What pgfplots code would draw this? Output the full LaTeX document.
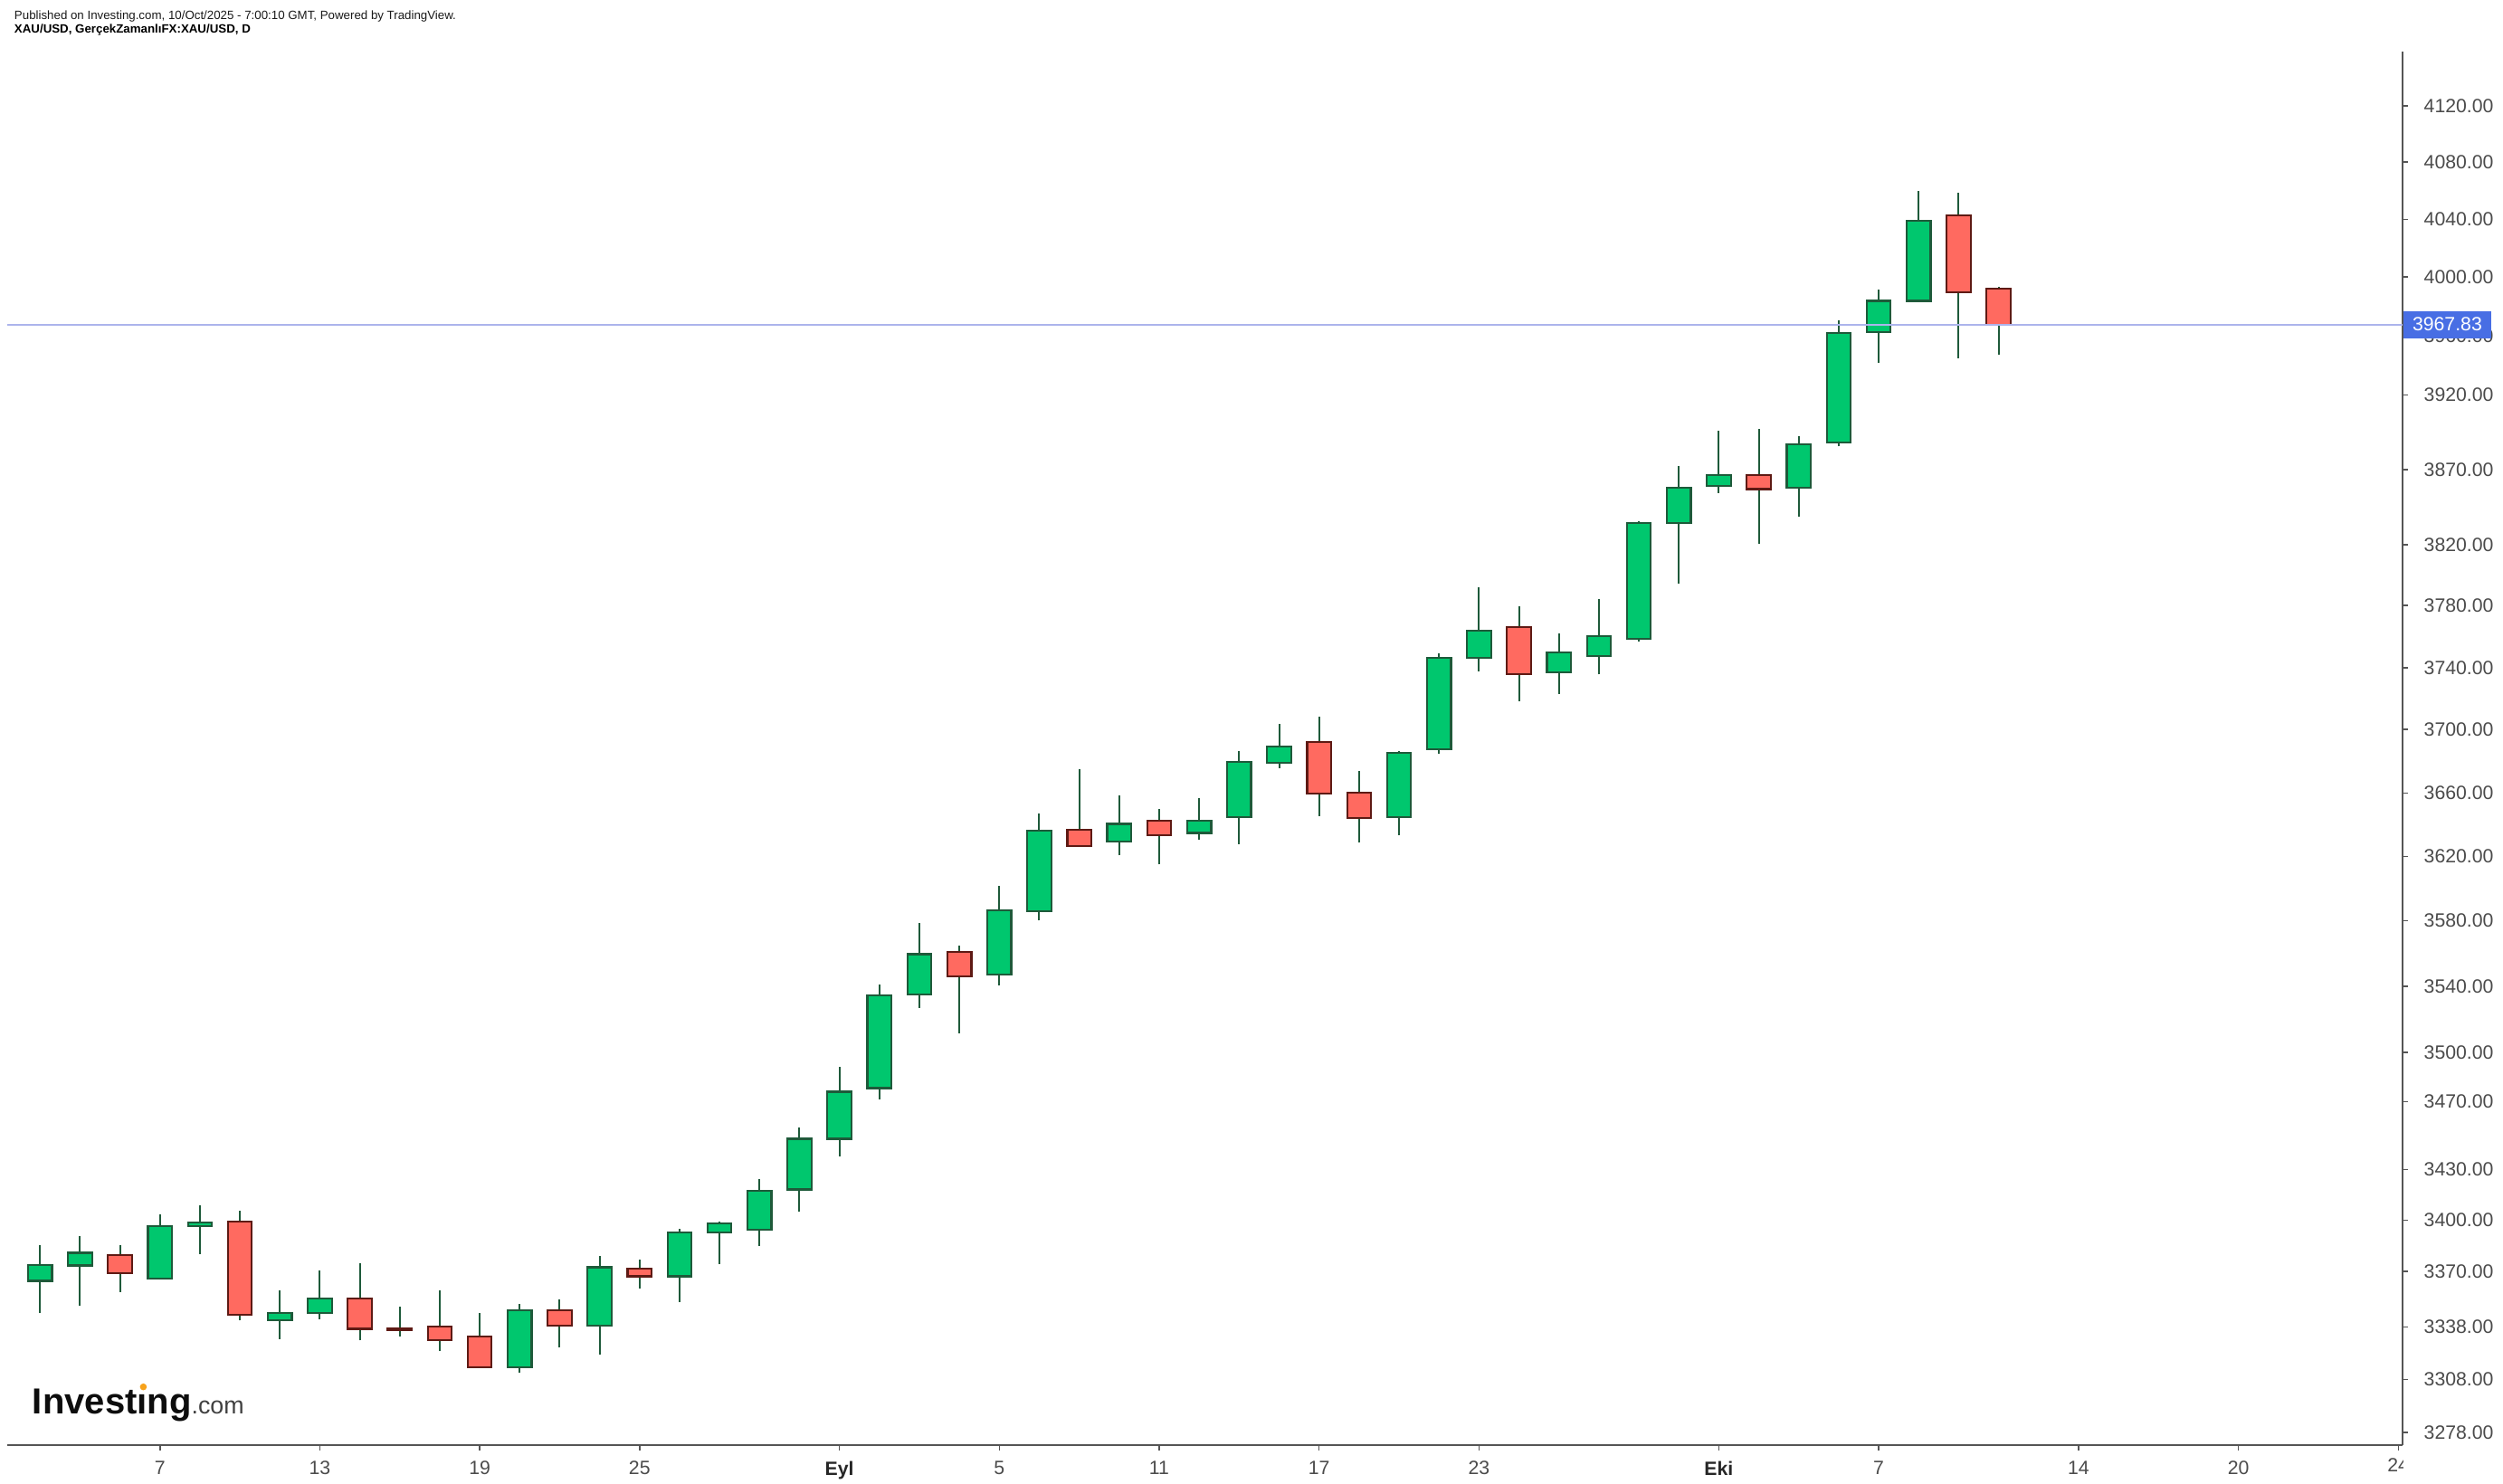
\documentclass[border=0pt]{standalone}
\usepackage{fontspec}
\setmainfont{Liberation Sans}
\usepackage{xcolor}
\usepackage{pgfplots}
\pgfplotsset{compat=1.18}

\definecolor{upfill}{RGB}{0,199,110}
\definecolor{upline}{RGB}{30,90,58}
\definecolor{dnfill}{RGB}{255,106,96}
\definecolor{dnline}{RGB}{94,26,20}
\definecolor{axisgray}{RGB}{85,85,85}
\definecolor{tickgray}{RGB}{75,75,75}
\definecolor{hlinecol}{RGB}{172,180,236}
\definecolor{lblblue}{RGB}{72,110,228}
\definecolor{invorange}{RGB}{247,162,27}

\pgfplotsset{
  candleup/.style={draw=upline, fill=upfill, line width=0.44pt, line join=miter, mark=none},
  candledn/.style={draw=dnline, fill=dnfill, line width=0.44pt, line join=miter, mark=none},
  wick/.style={draw=upline, line width=0.4pt, mark=none},
}
% \candle{index}{open}{high}{low}{close}
\newcommand\candle[5]{%
  \pgfmathsetmacro\xa{#1-0.3}%
  \pgfmathsetmacro\xb{#1+0.3}%
  \ifdim#5pt<#2pt \def\cstyle{candledn}\else\def\cstyle{candleup}\fi
  \edef\temp{\noexpand\addplot[wick] coordinates {(#1,#4) (#1,#3)};%
    \noexpand\addplot[\cstyle] coordinates {(\xa,#2) (\xb,#2) (\xb,#5) (\xa,#5)} -- cycle;}%
  \temp}

\newcommand\tickfont{\fontsize{4.25}{5}\selectfont}

\begin{document}
\begin{tikzpicture}
\useasboundingbox (0,0) rectangle (553.2pt,328pt);
\begin{axis}[
  at={(1.66pt,8.46pt)}, anchor=south west,
  scale only axis, width=529.34pt, height=307.94pt,
  xmin=-0.813, xmax=59.107,
  ymode=log, ymin=3270.5, ymax=4158.4,
  axis x line*=bottom, axis y line*=right,
  axis line style={draw=axisgray, line width=0.4pt},
  tick align=outside, major tick length=1.2pt,
  tick style={draw=axisgray, line width=0.32pt},
  minor tick num=0,
  xtick={3,7,11,15,20,24,28,32,36,42,46,51,55,59},
  xticklabels={7,13,19,25,\textbf{\color{black!85}Eyl},5,11,17,23,\textbf{\color{black!85}Eki},7,14,20,{}},
  ytick={3278,3308,3338,3370,3400,3430,3470,3500,3540,3580,3620,3660,3700,3740,3780,3820,3870,3920,3960,4000,4040,4080,4120},
  yticklabels={3278.00,3308.00,3338.00,3370.00,3400.00,3430.00,3470.00,3500.00,3540.00,3580.00,3620.00,3660.00,3700.00,3740.00,3780.00,3820.00,3870.00,3920.00,3960.00,4000.00,4040.00,4080.00,4120.00},
  xticklabel style={font=\tickfont, text=tickgray, yshift=1.1pt},
  yticklabel style={font=\tickfont, text=tickgray, anchor=west},
  clip=false,
]
% XAU/USD daily candles, 4 Aug 2025 - 10 Oct 2025 (index = trading day)
%       idx open    high    low     close
\candle{0}{3364.7}{3385.5}{3345.8}{3373.6}
\candle{1}{3373.4}{3390.8}{3350.0}{3380.8}
\candle{2}{3379.7}{3385.5}{3358.3}{3369.2}
\candle{3}{3366.2}{3403.5}{3365.5}{3396.6}
\candle{4}{3396.6}{3408.8}{3380.4}{3398.8}
\candle{5}{3399.0}{3405.5}{3341.6}{3345.1}
\candle{6}{3341.9}{3359.2}{3331.2}{3346.1}
\candle{7}{3346.1}{3370.7}{3342.6}{3354.5}
\candle{8}{3354.5}{3375.0}{3330.2}{3336.8}
\candle{9}{3336.9}{3349.8}{3332.3}{3336.0}
\candle{10}{3338.0}{3359.2}{3323.9}{3330.6}
\candle{11}{3332.8}{3345.7}{3314.5}{3315.0}
\candle{12}{3315.0}{3350.9}{3311.6}{3347.4}
\candle{13}{3347.5}{3354.0}{3326.1}{3338.9}
\candle{14}{3338.9}{3379.2}{3321.9}{3372.6}
\candle{15}{3371.5}{3377.1}{3360.5}{3367.1}
\candle{16}{3367.1}{3394.9}{3352.1}{3392.6}
\candle{17}{3392.6}{3399.3}{3374.1}{3397.9}
\candle{18}{3394.6}{3423.8}{3384.7}{3417.1}
\candle{19}{3418.0}{3455.0}{3404.9}{3448.0}
\candle{20}{3447.9}{3490.7}{3437.9}{3476.2}
\candle{21}{3478.2}{3541.2}{3471.3}{3534.2}
\candle{22}{3535.1}{3578.9}{3527.0}{3559.4}
\candle{23}{3560.7}{3564.5}{3511.6}{3546.1}
\candle{24}{3547.2}{3601.3}{3540.3}{3586.4}
\candle{25}{3586.2}{3646.6}{3580.2}{3636.0}
\candle{26}{3637.1}{3675.1}{3626.3}{3626.7}
\candle{27}{3629.2}{3658.0}{3620.7}{3640.5}
\candle{28}{3642.8}{3650.0}{3615.0}{3633.5}
\candle{29}{3634.8}{3656.8}{3630.9}{3642.8}
\candle{30}{3644.7}{3686.6}{3627.7}{3679.4}
\candle{31}{3679.2}{3703.9}{3675.3}{3689.7}
\candle{32}{3692.0}{3708.5}{3645.6}{3659.7}
\candle{33}{3660.1}{3674.0}{3628.6}{3643.8}
\candle{34}{3644.7}{3686.6}{3633.1}{3685.3}
\candle{35}{3687.2}{3749.3}{3684.5}{3746.5}
\candle{36}{3746.4}{3791.6}{3737.8}{3764.1}
\candle{37}{3766.5}{3779.8}{3718.0}{3735.8}
\candle{38}{3737.0}{3762.2}{3722.7}{3750.0}
\candle{39}{3747.5}{3784.5}{3735.5}{3760.6}
\candle{40}{3758.0}{3835.6}{3757.0}{3834.0}
\candle{41}{3834.0}{3872.9}{3794.4}{3858.0}
\candle{42}{3859.0}{3895.9}{3854.0}{3866.5}
\candle{43}{3866.5}{3897.1}{3820.5}{3856.9}
\candle{44}{3858.0}{3892.3}{3838.4}{3887.1}
\candle{45}{3888.1}{3970.8}{3885.4}{3961.7}
\candle{46}{3962.8}{3991.9}{3941.4}{3983.8}
\candle{47}{3983.8}{4059.7}{3983.0}{4038.9}
\candle{48}{4042.7}{4058.5}{3945.1}{3990.1}
\candle{49}{3992.8}{3994.0}{3947.5}{3967.83}
\addplot[draw=hlinecol, line width=0.36pt, mark=none] coordinates {(-0.813,3967.83) (59.107,3967.83)};
\end{axis}
% clipped last tick label
\begin{scope}
\clip (0,0) rectangle (531pt,8pt);
\node[anchor=base, inner sep=0pt, font=\tickfont, text=tickgray] at (530.04pt,2.6pt) {24};
\end{scope}
% last price label
\node[anchor=west, fill=lblblue, text=white, inner xsep=2pt, inner ysep=0pt, minimum height=6pt,
  font=\tickfont] at (531pt,256.26pt) {3967.83};
% header
\node[anchor=base west, inner sep=0pt, font=\fontsize{2.66}{3}\selectfont, text=black!90] at (3pt,323.7pt)
  {Published on Investing.com, 10/Oct/2025 - 7:00:10 GMT, Powered by TradingView.};
\node[anchor=base west, inner sep=0pt, font=\fontsize{2.66}{3}\selectfont\bfseries, text=black] at (3pt,320.7pt)
  {XAU/USD, GerçekZamanlıFX:XAU/USD, D};
% logo
\node[anchor=base west, inner sep=0pt] at (7pt,15.4pt)
  {\fontsize{8}{9}\selectfont\bfseries\color{black!95}Investıng\fontsize{5.36}{6}\selectfont\mdseries\color{black!75}.com};
\fill[invorange] (31.68pt,21.46pt) circle (0.76pt);
\end{tikzpicture}
\end{document}
